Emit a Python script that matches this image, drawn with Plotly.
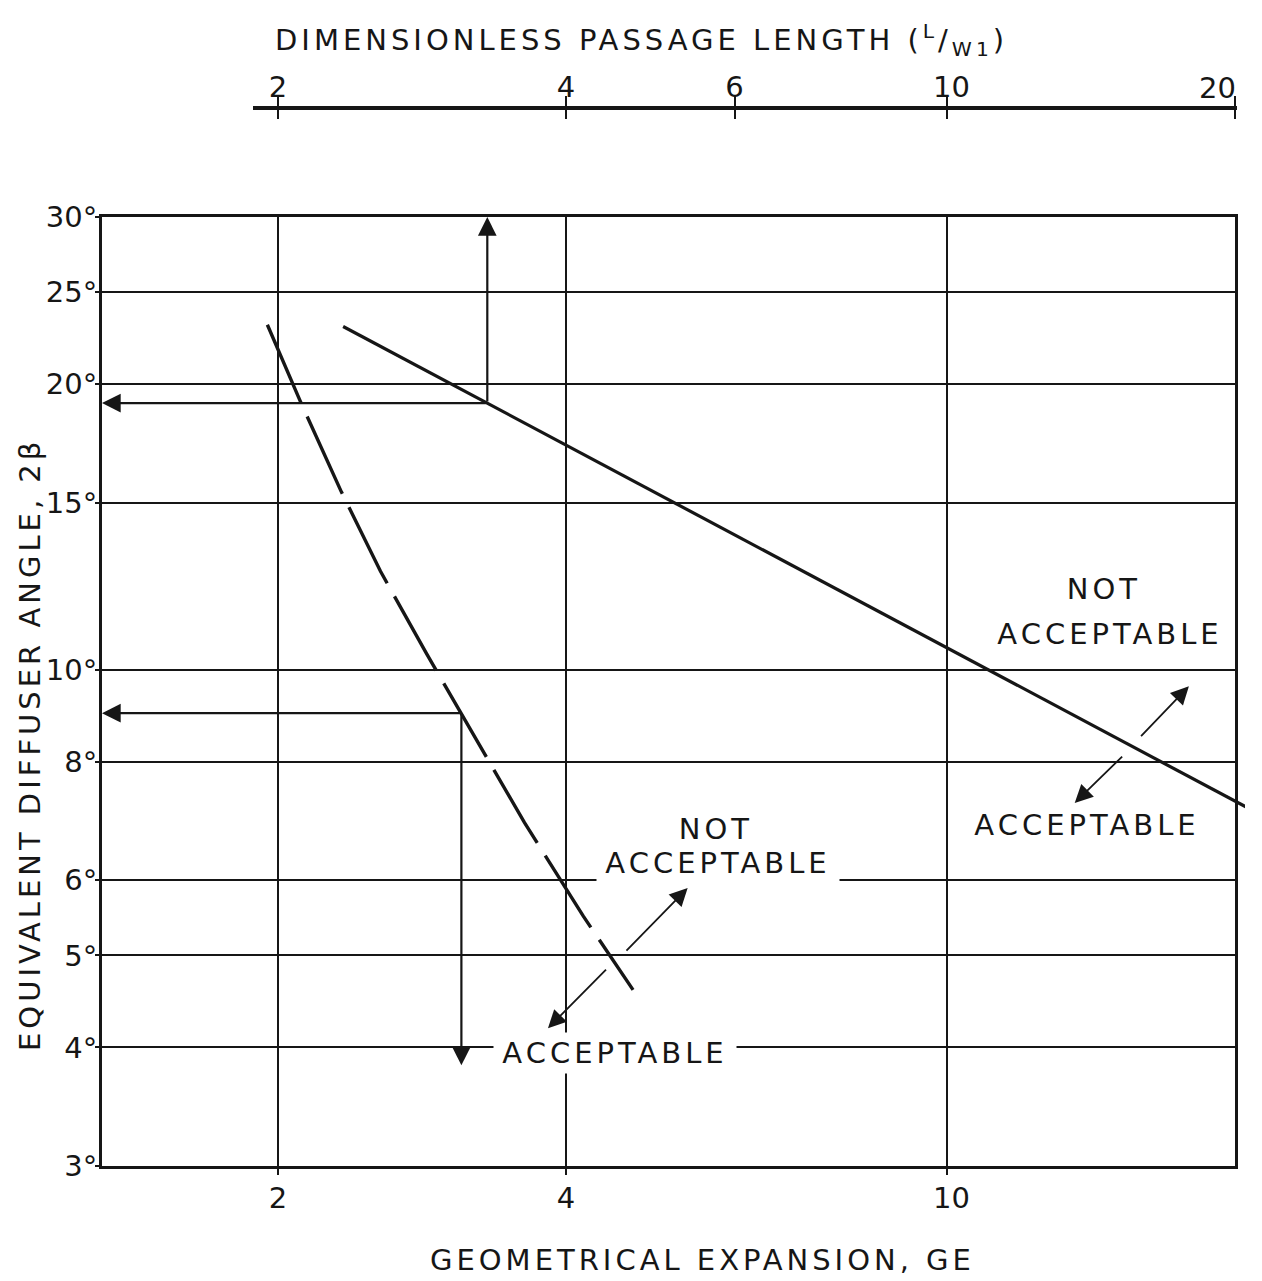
import numpy as np
import plotly.graph_objects as go

# ---------------- data ----------------
ge_range = [1.31, 20]
angle_range = [3, 30]

ge_ticks = [2, 4, 10]
ge_tick_labels = ["2", "4", "\u00a010"]
lw_ticks = [2, 4, 6, 10, 20]
lw_tick_labels = ["2", "4", "6", "\u00a010", "20"]
angle_ticks = [3, 4, 5, 6, 8, 10, 15, 20, 25, 30]
angle_tick_labels = ["3°", "4°", "5°", "6°", "8°", "10°", "15°", "20°", "25°", "30°"]

# solid limit line (L/W1 scale)
solid_ge = [2.34, 21.3]
solid_angle = [23.0, 7.03]

# dashed limit line (GE scale)
dashed_ge = [1.95, 2.11, 2.33, 2.56, 2.86, 3.11, 3.62, 4.17, 4.70]
dashed_angle = [23.1, 19.2, 15.4, 12.7, 10.4, 9.0, 6.9, 5.5, 4.6]

# worked-example read-out points
readout_ge = [3.31, 3.11]
readout_angle = [19.1, 9.0]
readout_end_angle = [30.0, 3.83]

# region arrows (tail -> head)
region_tail_ge = [4.61, 4.42, 15.9, 15.3]
region_tail_angle = [5.04, 4.85, 8.48, 8.13]
region_head_ge = [5.36, 3.83, 17.9, 13.6]
region_head_angle = [5.89, 4.19, 9.61, 7.24]

# region labels
label_text = ["NOT", "ACCEPTABLE", "ACCEPTABLE", "NOT", "ACCEPTABLE", "ACCEPTABLE"]
label_ge = [5.74, 5.77, 4.50, 14.6, 14.8, 14.0]
label_angle = [6.80, 6.26, 3.95, 12.17, 10.91, 6.86]
label_masks_grid = [True, True, True, False, False, False]

# ---------------- geometry ----------------
W, H = 1245, 1281
PL, PR, PT, PB = 102, 1245, 100, 1166   # plot-area pixel box
MAIN_RIGHT = 1235
FONT = "DejaVu Sans"
INK = "#161616"

XR = [np.log10(ge_range[0]), np.log10(ge_range[1])]
YR = [np.log10(angle_range[0]), np.log10(angle_range[1])]
ppd = (MAIN_RIGHT - PL) / (XR[1] - XR[0])


def lx_at(px):
    return XR[0] + (px - PL) / ppd


def xdom(px):
    return (px - PL) / (PR - PL)


def ydom(py):
    return (PB - py) / (PB - PT)


fig = go.Figure()

fig.add_trace(go.Scatter(
    x=dashed_ge, y=dashed_angle, mode="lines",
    line=dict(color=INK, width=3.4, dash="85px,15px"),
    showlegend=False, hoverinfo="skip"))

fig.add_trace(go.Scatter(
    x=solid_ge, y=solid_angle, mode="lines", xaxis="x3", yaxis="y3",
    line=dict(color=INK, width=3.2),
    showlegend=False, hoverinfo="skip"))

# dummy traces so the top axis subplots exist
for ax in ["x2", "x4"]:
    fig.add_trace(go.Scatter(x=lw_ticks, y=[None] * len(lw_ticks), xaxis=ax, yaxis="y3",
                             mode="lines", showlegend=False, hoverinfo="skip"))

tickfont = dict(family=FONT, size=29, color=INK)

fig.update_layout(
    width=W, height=H, autosize=False,
    margin=dict(l=PL, r=W - PR, t=PT, b=H - PB),
    paper_bgcolor="white",
    plot_bgcolor="rgba(0,0,0,0)",
    showlegend=False,
    xaxis=dict(
        type="log", range=XR, domain=[0, xdom(MAIN_RIGHT)], anchor="y",
        tickvals=ge_ticks, ticktext=ge_tick_labels, tickfont=tickfont,
        ticks="outside", ticklen=6, tickwidth=2, tickcolor=INK,
        ticklabelstandoff=-2,
        showgrid=True, gridcolor=INK, gridwidth=1.8,
        showline=True, linecolor=INK, linewidth=3, mirror=True,
        zeroline=False,
    ),
    yaxis=dict(
        type="log", range=YR, domain=[0, ydom(217)], anchor="x",
        tickvals=angle_ticks, ticktext=angle_tick_labels, tickfont=tickfont,
        ticks="outside", ticklen=4, tickwidth=2, tickcolor=INK,
        ticklabelstandoff=-8,
        showgrid=True, gridcolor=INK, gridwidth=2.2,
        showline=True, linecolor=INK, linewidth=3, mirror=True,
        zeroline=False,
    ),
    yaxis3=dict(
        type="log", range=YR, domain=[0, ydom(217)], anchor="x3",
        visible=False, showgrid=False,
    ),
    xaxis2=dict(
        type="log", range=[lx_at(253), lx_at(1237)], domain=[xdom(253), xdom(1237)],
        anchor="free", position=ydom(108), side="top",
        tickvals=lw_ticks, ticktext=lw_tick_labels[:-1] + [""], tickfont=tickfont,
        ticks="outside", ticklen=10, tickwidth=2, tickcolor=INK,
        ticklabelstandoff=-12,
        showgrid=False, showline=True, linecolor=INK, linewidth=3.5, zeroline=False,
    ),
    xaxis4=dict(
        type="log", range=[lx_at(253), lx_at(1237)], domain=[xdom(253), xdom(1237)],
        anchor="free", position=ydom(108), side="top",
        tickvals=lw_ticks, showticklabels=False,
        ticks="inside", ticklen=10, tickwidth=2, tickcolor=INK,
        showgrid=False, showline=False, zeroline=False,
    ),
    xaxis3=dict(
        type="log", range=[lx_at(PL), lx_at(PR)], domain=[0, 1], anchor="y3",
        visible=False, showgrid=False,
    ),
)

annotations = []
title_font = dict(family=FONT, size=29, color=INK)

# last top-axis label, lettered just inside the axis end as in the original
annotations.append(dict(
    text=lw_tick_labels[-1], xref="x2", yref="paper",
    x=np.log10(lw_ticks[-1]), y=ydom(88), xshift=-18,
    xanchor="center", yanchor="middle", showarrow=False, font=tickfont))

# axis titles
annotations.append(dict(
    text="DIMENSIONLESS PASSAGE LENGTH (<sup>L</sup>/<sub>W1</sub>)",
    xref="paper", yref="paper", x=xdom(641), y=ydom(40),
    xanchor="center", yanchor="middle",
    showarrow=False, font=title_font))
annotations.append(dict(
    text="GEOMETRICAL EXPANSION, GE",
    xref="paper", yref="paper", x=xdom(702), y=ydom(1260),
    xanchor="center", yanchor="middle",
    showarrow=False, font=title_font))
annotations.append(dict(
    text="EQUIVALENT DIFFUSER ANGLE, 2β",
    xref="paper", yref="paper", x=xdom(30), y=ydom(745), textangle=-90,
    xanchor="center", yanchor="middle",
    showarrow=False, font=title_font))

# region labels (white boxes break the grid like the original lettering)
for t, gx, ay, mask in zip(label_text, label_ge, label_angle, label_masks_grid):
    annotations.append(dict(
        text=t, xref="x", yref="y", x=np.log10(gx), y=np.log10(ay),
        xanchor="center", yanchor="middle",
        width=(236 if len(t) > 3 else 80),
        showarrow=False, bgcolor=("white" if mask else "rgba(0,0,0,0)"), borderpad=3,
        font=title_font))

arrow_style = dict(showarrow=True, arrowhead=2, arrowsize=1.7, arrowwidth=2.2,
                   arrowcolor=INK, standoff=0, startstandoff=0, text="")

# read-out arrows: horizontal to the angle axis, vertical to the limits
for gx, ay, ay_end in zip(readout_ge, readout_angle, readout_end_angle):
    annotations.append(dict(
        xref="x", yref="y", axref="x", ayref="y",
        x=XR[0], y=np.log10(ay), ax=np.log10(gx), ay=np.log10(ay), **arrow_style))
    annotations.append(dict(
        xref="x", yref="y", axref="x", ayref="y",
        x=np.log10(gx), y=np.log10(ay_end), ax=np.log10(gx), ay=np.log10(ay), **arrow_style))

# region arrows
for tg, ta, hg, ha in zip(region_tail_ge, region_tail_angle, region_head_ge, region_head_angle):
    annotations.append(dict(
        xref="x", yref="y", axref="x", ayref="y",
        x=np.log10(hg), y=np.log10(ha), ax=np.log10(tg), ay=np.log10(ta),
        **dict(arrow_style, arrowwidth=1.8, arrowsize=2.0)))

fig.update_layout(annotations=annotations)

post = (
    "document.documentElement.style.overflow='hidden';"
    "document.body.style.overflow='hidden';"
    "document.body.style.margin='0';"
    "document.querySelectorAll('.annotation-text').forEach(function(t){"
    "if(t.textContent.length>2){t.style.letterSpacing='4px';}});"
)

fig.write_html("out.html", post_script=post, config={"displayModeBar": False})
